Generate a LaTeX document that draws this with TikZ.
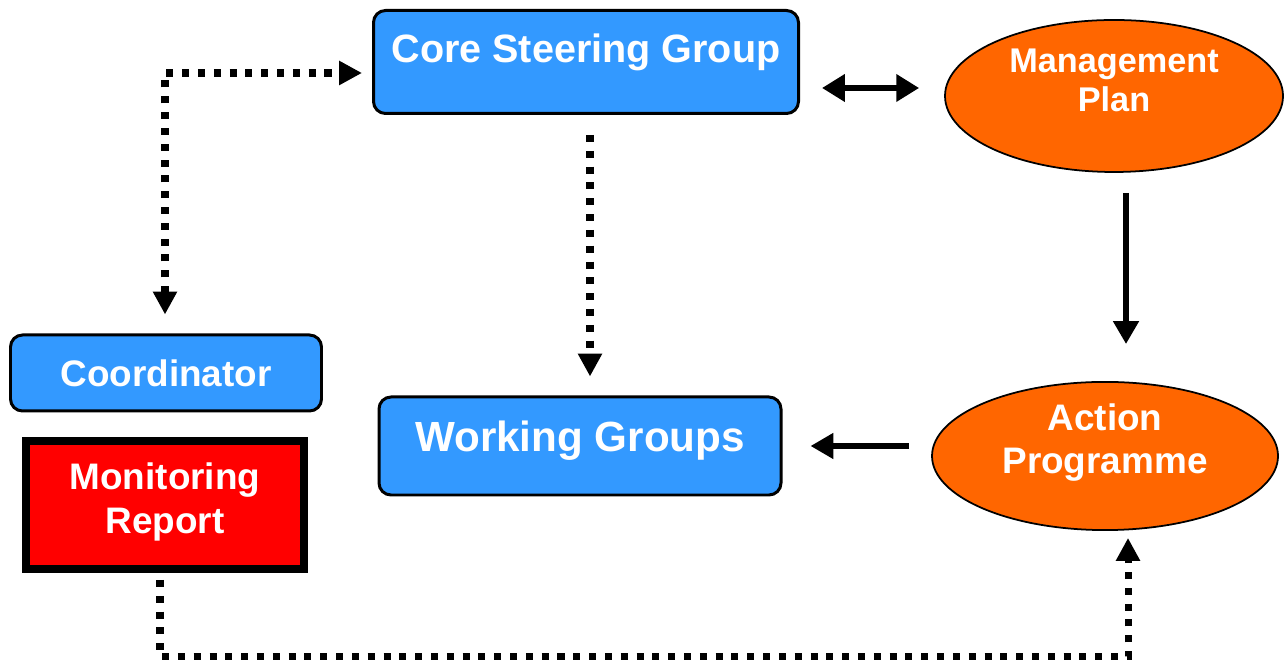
\documentclass[tikz,border=0pt]{standalone}
\usepackage{fontspec}
\setmainfont{Liberation Sans}
\usepackage{xcolor}
\usepackage{tikz}
\usetikzlibrary{arrows.meta,shapes.geometric}

\definecolor{boxblue}{HTML}{3399FF}
\definecolor{planorange}{HTML}{FF6600}
\definecolor{reportred}{HTML}{FF0000}

\newcommand{\boxfont}[2]{\bfseries\fontsize{#1}{#2}\selectfont}

\begin{document}
\begin{tikzpicture}[group/.style={draw, line width=1.7pt, rounded corners=2.4mm, fill=boxblue, text=white, align=center}, plan/.style={ellipse, draw, line width=1pt, fill=planorange, text=white, align=center, inner sep=0pt}, report/.style={draw, line width=4.5pt, fill=reportred, text=white, align=center}, dotarr/.style={line width=4pt, dash pattern=on 4pt off 5pt, -{Triangle[length=13pt,width=13pt]}}, arr/.style={line width=3.2pt, -{Triangle[length=13pt,width=14pt]}}]
\useasboundingbox (0,0) rectangle (25.7,13.26);
\node[group, minimum width=8.5cm, minimum height=2.06cm, font=\boxfont{22.5}{25}, text depth=16pt] (csg) at (11.72,12.02) {Core Steering Group};
\node[plan, minimum width=6.76cm, minimum height=3.04cm, font=\boxfont{19.5}{22.7}, text depth=18pt] (mp) at (22.28,11.34) {Management\\Plan};
\node[group, minimum width=6.22cm, minimum height=1.52cm, font=\boxfont{21}{24}] (coord) at (3.32,5.80) {Coordinator};
\node[report, minimum width=5.56cm, minimum height=2.56cm, font=\boxfont{21}{25}, text depth=8pt] (mon) at (3.30,3.16) {Monitoring\\Report};
\node[group, minimum width=8.04cm, minimum height=1.96cm, font=\boxfont{24}{27}, text depth=10.7pt] (wg) at (11.60,4.34) {Working Groups};
\node[plan, minimum width=6.92cm, minimum height=2.96cm, font=\boxfont{21}{24.4}, text depth=20pt] (ap) at (22.10,4.14) {Action\\Programme};
% dotted links
\draw[dotarr, {Triangle[length=13pt,width=13pt]}-{Triangle[length=13pt,width=13pt]}, shorten <=3.8mm, shorten >=2mm] ([xshift=-0.2mm]coord.north) |- ([yshift=-2.2mm]csg.west);
\draw[dotarr, shorten <=4mm, shorten >=3.8mm] ([xshift=0.8mm]csg.south) -- ([xshift=0.8mm]csg.south |- wg.north);
\draw[dotarr, shorten <=1.4mm, shorten >=1.4mm] ([xshift=-1mm]mon.south) -- ++(0,-1.68) -| ([xshift=4.6mm]ap.south);
% solid links
\draw[arr, {Triangle[length=13pt,width=15pt]}-{Triangle[length=13pt,width=15pt]}, shorten <=4.4mm, shorten >=5mm] ([yshift=-5.2mm]csg.east) -- ([yshift=-5.2mm]csg.east -| mp.west);
\draw[arr, shorten <=4mm, shorten >=7.4mm] ([xshift=2.4mm]mp.south) -- ([xshift=2.4mm]mp.south |- ap.north);
\draw[arr, shorten <=4.4mm, shorten >=5.6mm] (ap.west |- wg.east) -- (wg.east);
\end{tikzpicture}
\end{document}
